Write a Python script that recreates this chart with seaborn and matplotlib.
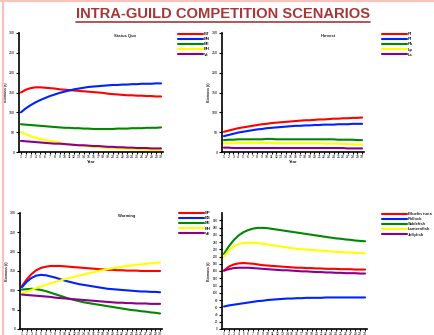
import numpy as np
import pandas as pd
import matplotlib
matplotlib.use("Agg")
import matplotlib.pyplot as plt
from matplotlib.lines import Line2D
import seaborn as sns

years = list(range(1, 31))
colors = ["#ff0000", "#0022ff", "#008800", "#ffff00", "#8b008b"]

# Scenario 1
s1_names = ["BT", "BN", "BE", "BH", "Ve"]
s1_red = [150,157,161,163,163,162,161,160,158,157,156,155,154,153,152,151,150,149,147,146,145,144,143,143,142,142,141,141,140,140]
s1_blue = [100,110,118,125,131,136,141,145,149,152,155,158,160,162,164,165,166,167,168,169,169,170,170,171,171,172,172,172,173,173]
s1_green = [70,69,68,67,66,65,64,63,62,61,61,60,60,59,59,58,58,58,58,58,59,59,59,60,60,60,61,61,61,62]
s1_yellow = [50,45,40,36,33,30,28,26,24,21,20,18,17,15,14,13,12,11,10,10,9,8,8,7,7,6,6,5,5,4]
s1_purple = [28,27,26,25,24,23,22,21,21,20,19,18,17,17,16,15,15,14,13,13,12,12,11,11,10,10,10,9,9,9]

# Scenario 2
s2_names = ["Pl", "Pl", "Pb", "Lp", "Ls"]
s2_red = [51,54,57,60,62,64,66,68,70,71,73,74,75,76,77,78,79,80,80,81,82,82,83,84,84,85,85,86,86,87]
s2_blue = [40,43,46,49,51,53,55,57,58,60,61,62,63,64,65,66,66,67,67,68,68,69,69,69,70,70,70,71,71,71]
s2_green = [30,31,31,32,32,32,32,32,32,33,33,32,32,32,32,32,32,32,32,32,32,32,32,32,31,31,31,31,30,30]
s2_yellow = [22,22,22,23,23,23,23,23,23,23,23,22,22,22,22,22,22,22,22,22,22,21,21,21,21,20,20,19,19,19]
s2_purple = [11,11,10,10,10,10,10,10,10,10,10,10,10,10,10,10,10,10,10,10,10,10,10,10,10,10,9,9,9,9]

# Scenario 3
s3_names = ["BP", "BS", "BE", "BH", "VE"]
s3_red = [111,128,142,152,158,161,163,163,163,162,161,160,159,158,157,156,155,154,153,153,152,152,151,151,151,150,150,150,150,150]
s3_blue = [108,122,132,138,140,139,136,133,129,125,122,119,116,114,112,110,108,106,104,103,102,101,100,99,98,97,97,96,96,95]
s3_green = [102,103,104,103,101,98,94,90,86,82,78,75,72,69,67,65,63,61,59,57,55,53,51,49,48,46,45,43,42,40]
s3_yellow = [91,96,101,106,110,114,118,122,125,129,132,135,138,141,144,147,150,152,155,157,159,161,163,164,166,167,168,170,171,172]
s3_purple = [89,88,87,86,85,84,83,81,80,79,78,77,76,75,74,73,72,71,70,69,68,68,67,67,66,66,66,65,65,65]

# Scenario 4
s4_names = ["Bluefin tuna", "Pollock", "Sablefish", "Lanternfish", "Jellyfish"]
s4_red = [161,172,178,181,182,181,180,178,176,175,174,173,172,171,170,169,169,168,168,167,167,166,166,166,165,165,165,164,164,164]
s4_blue = [62,65,67,69,71,73,75,77,78,80,81,82,83,84,84,85,85,86,86,86,86,87,87,87,87,87,87,87,87,87]
s4_green = [207,228,245,258,267,273,277,279,279,278,276,274,272,270,268,266,264,262,260,258,256,254,252,250,249,247,246,244,243,242]
s4_yellow = [200,217,228,234,237,238,238,237,235,233,231,229,227,225,223,221,220,219,218,217,216,215,214,213,212,211,211,210,210,209]
s4_purple = [161,165,168,169,169,169,168,167,166,165,164,163,162,162,161,160,159,159,158,157,157,156,156,155,155,154,154,154,153,153]

panel_titles = ["Status Quo", "Harvest", "Warming", ""]

sns.set_theme(style="ticks")
plt.rcParams["font.family"] = ["Liberation Sans", "DejaVu Sans"]

fig = plt.figure(figsize=(4.35, 3.35), dpi=100)

W, H = 435.0, 335.0
def box(l, t, r, b):
    return [l / W, 1 - b / H, (r - l) / W, (b - t) / H]

panels = [
    (box(19, 33, 163, 152), s1_names, [s1_red, s1_blue, s1_green, s1_yellow, s1_purple],
     (0, 300), list(range(0, 301, 50)), (178, 32), True, (125, 36), 0.6),
    (box(222, 33, 364, 152), s2_names, [s2_red, s2_blue, s2_green, s2_yellow, s2_purple],
     (0, 300), list(range(0, 301, 50)), (382, 32), True, (328, 36), 0.6),
    (box(20, 213, 162, 329), s3_names, [s3_red, s3_blue, s3_green, s3_yellow, s3_purple],
     (0, 300), list(range(0, 301, 50)), (179, 211), False, (127, 216), 0.6),
    (box(222, 213, 367, 329), s4_names, [s4_red, s4_blue, s4_green, s4_yellow, s4_purple],
     (0, 320), list(range(0, 301, 20)), (382, 212), False, None, 1.0),
]

for i, (rect, names, series, ylim, yticks, leg_xy, show_xlabel, title_xy, ypad) in enumerate(panels):
    ax = fig.add_axes(rect)
    rows = []
    for k, (nm, vals) in enumerate(zip(names, series)):
        for yr, v in zip(years, vals):
            rows.append({"Year": yr, "Biomass": v, "Species": f"{k}:{nm}"})
    df = pd.DataFrame(rows)
    order = [f"{k}:{nm}" for k, nm in enumerate(names)]
    sns.lineplot(data=df, x="Year", y="Biomass", hue="Species", hue_order=order,
                 palette=colors, linewidth=1.5, ax=ax, legend=False)
    ax.set_xlim(0.6, 30.4)
    ax.set_ylim(*ylim)
    ax.set_yticks(yticks)
    ax.set_xticks(years)
    ysize = 2.5 if i < 3 else 2.2
    ax.tick_params(axis="y", labelsize=ysize, length=2, width=0.8, pad=1, colors="black")
    ax.tick_params(axis="x", labelsize=2.4, length=1.5, width=0.8, pad=0.6, colors="black")
    for s in ["top", "right"]:
        ax.spines[s].set_visible(False)
    for s in ["left", "bottom"]:
        ax.spines[s].set_linewidth(1.2)
        ax.spines[s].set_color("black")
    if show_xlabel:
        ax.set_xlabel("Year", fontsize=3, labelpad=1, fontweight="bold")
    else:
        ax.set_xlabel("")
    ax.set_ylabel("Biomass (t)", fontsize=2.6, labelpad=ypad, fontweight="bold")
    if title_xy is not None:
        fig.text(title_xy[0] / W, 1 - title_xy[1] / H, panel_titles[i], fontsize=3,
                 ha="center", va="center", fontweight="bold")
    handles = [Line2D([0], [0], color=c, lw=1.5) for c in colors]
    fig.legend(handles, names, loc="upper left",
               bbox_to_anchor=(leg_xy[0] / W, 1 - leg_xy[1] / H),
               frameon=False, handlelength=6.0, handletextpad=0.3,
               labelspacing=0.28, borderpad=0, borderaxespad=0,
               prop={"size": 3, "weight": "bold"})

# Slide frame
fig.add_artist(Line2D([3.5 / W, 3.5 / W], [0, 1], color="#f5c4bd", lw=1.6,
                      transform=fig.transFigure))
fig.add_artist(Line2D([0, 1], [1 - 1 / H, 1 - 1 / H], color="#f5c4bd", lw=1.6,
                      transform=fig.transFigure))

title = fig.text(223 / W, 1 - 14 / H, "INTRA-GUILD COMPETITION SCENARIOS",
                 fontsize=10.6, fontweight="bold", color="#a5373a",
                 ha="center", va="center")
fig.canvas.draw()
bb = title.get_window_extent(renderer=fig.canvas.get_renderer())
x0, x1 = bb.x0 / fig.bbox.width, bb.x1 / fig.bbox.width
fig.add_artist(Line2D([x0, x1], [1 - 22 / H, 1 - 22 / H], color="#a5373a", lw=1.2,
                      transform=fig.transFigure))

fig.savefig("out.png", dpi=100)
